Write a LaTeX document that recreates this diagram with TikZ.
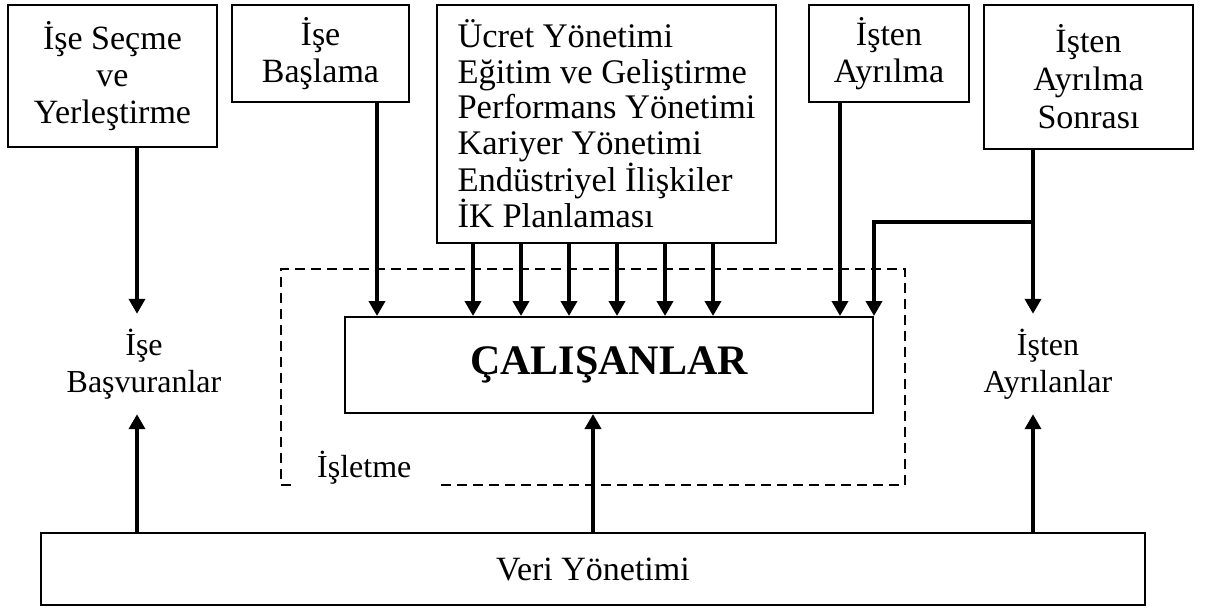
\documentclass[tikz,border=0pt]{standalone}
\usepackage{fontspec}
\setmainfont{Liberation Serif}
\usetikzlibrary{arrows.meta,calc}
\begin{document}
\begin{tikzpicture}[x=1pt,y=-1pt,
  box/.style={draw,line width=2pt,inner sep=0pt,align=center,font=\fontsize{34}{37}\selectfont},
  lbl/.style={inner sep=0pt,align=center,font=\fontsize{32}{37}\selectfont},
  arr/.style={line width=4pt,-{Triangle[length=15pt,width=16pt]}},
  conn/.style={line width=4pt},
  frame/.style={draw,line width=2pt,dash pattern=on 10pt off 6pt}]
\useasboundingbox (0,0) rectangle (1207,608);
% top boxes
\node[box,minimum width=209pt,minimum height=142pt] (b1) at (112.5,76) {İşe Seçme\\ve\\Yerleştirme};
\node[box,minimum width=177pt,minimum height=97pt] (b2) at (320.5,53.5) {İşe\\Başlama};
\node[box,minimum width=339pt,minimum height=238pt,align=left,font=\fontsize{34.5}{35.5}\selectfont] (b3) at (606.5,124) {Ücret Yönetimi\\Eğitim ve Geliştirme\\Performans Yönetimi\\Kariyer Yönetimi\\Endüstriyel İlişkiler\\İK Planlaması};
\node[box,minimum width=160pt,minimum height=97pt] (b4) at (889,53.5) {İşten\\Ayrılma};
\node[box,minimum width=209pt,minimum height=144pt,font=\fontsize{34}{38}\selectfont] (b5) at (1088.5,77) {İşten\\Ayrılma\\Sonrası};
% organisation frame
\node[frame,minimum width=624pt,minimum height=216pt,inner sep=0pt] (org) at (593,377) {};
\node[fill=white,inner sep=0pt,minimum width=143pt,minimum height=50pt] (cover) at (367.5,465) {};
\node[lbl,anchor=base west] (isl) at (317,477) {İşletme};
% employees
\node[box,minimum width=528pt,minimum height=96pt,font=\fontsize{42}{46}\selectfont\bfseries] (emp) at (609,365) {ÇALIŞANLAR};
% side labels
\node[lbl,minimum height=100pt] (app) at (144,364) {İşe\\Başvuranlar};
\node[lbl,minimum height=100pt] (lvr) at (1048,364) {İşten\\Ayrılanlar};
% data management
\node[box,minimum width=1104pt,minimum height=72pt] (veri) at (593,569) {Veri Yönetimi};
% downward arrows
\draw[arr] ([xshift=-7pt]app.north |- b1.south) -- ([xshift=-7pt]app.north);
\draw[arr] ([xshift=56.5pt]b2.south) -- ([xshift=56.5pt]b2.south |- emp.north);
\foreach \xx in {473,521,569,617,665,713}
  \draw[arr] (b3.south -| \xx,0) -- (emp.north -| \xx,0);
\draw[arr] ([xshift=-49pt]b4.south) -- ([xshift=-49pt]b4.south |- emp.north);
\draw[arr] ([xshift=-15pt]lvr.north |- b5.south) -- ([xshift=-15pt]lvr.north);
\coordinate (br) at ([xshift=-15pt]lvr.north |- 0,222);
\draw[conn,line cap=rect] (br) -- (br -| emp.north east);
\draw[arr] ($(br -| emp.north east)+(0,-2)$) -- (emp.north east);
% upward arrows
\draw[arr] ([xshift=-7pt]app.south |- veri.north) -- ([xshift=-7pt]app.south);
\draw[arr] (veri.north) -- (veri.north |- emp.south);
\draw[arr] ([xshift=-15pt]lvr.south |- veri.north) -- ([xshift=-15pt]lvr.south);
\end{tikzpicture}
\end{document}
